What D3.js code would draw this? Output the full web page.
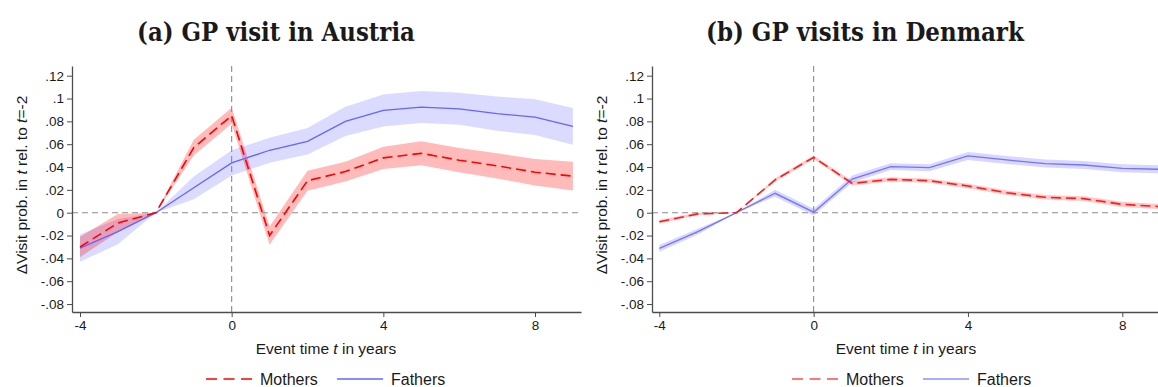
<!DOCTYPE html>
<html>
<head>
<meta charset="utf-8">
<script src="https://cdn.jsdelivr.net/npm/d3@7"></script>
<style>
body { margin: 0; background: #fff; }
svg text { font-family: "Liberation Sans", Arial, sans-serif; fill: #1a1a1a; }
</style>
</head>
<body>
<svg id="chart" width="1158" height="387"></svg>
<script>
var years = [-4, -3, -2, -1, 0, 1, 2, 3, 4, 5, 6, 7, 8, 9];
var yTicks = [0.12, 0.1, 0.08, 0.06, 0.04, 0.02, 0, -0.02, -0.04, -0.06, -0.08];
var xTicks = [-4, 0, 4, 8];
var titles = ["(a) GP visit in Austria", "(b) GP visits in Denmark"];
var seriesNames = ["Mothers", "Fathers"];

// Austria
var atMothers = [-0.030, -0.009, 0, 0.057, 0.085, -0.020, 0.028, 0.036, 0.048, 0.052, 0.046, 0.041, 0.0355, 0.032];
var atMothersCI = [0.009, 0.0078, 0, 0.007, 0.007, 0.008, 0.0087, 0.0087, 0.0097, 0.0105, 0.0106, 0.011, 0.0116, 0.0126];
var atFathers = [-0.031, -0.0166, 0, 0.0218, 0.0436, 0.0547, 0.0625, 0.080, 0.0896, 0.0925, 0.091, 0.0867, 0.0837, 0.0756];
var atFathersCI = [0.012, 0.011, 0, 0.010, 0.011, 0.011, 0.0116, 0.0128, 0.014, 0.014, 0.014, 0.015, 0.0157, 0.016];

// Denmark
var dkMothers = [-0.0079, -0.001, 0, 0.0287, 0.0485, 0.0257, 0.0292, 0.028, 0.0234, 0.0175, 0.0135, 0.0123, 0.0073, 0.0053];
var dkMothersCI = [0.0015, 0.0012, 0, 0.0015, 0.0015, 0.0018, 0.0018, 0.0018, 0.002, 0.002, 0.002, 0.002, 0.0022, 0.0022];
var dkFathers = [-0.0312, -0.0166, 0, 0.017, 0.0005, 0.0295, 0.0403, 0.0394, 0.0497, 0.0462, 0.043, 0.0418, 0.0389, 0.038];
var dkFathersCI = [0.003, 0.0025, 0, 0.003, 0.003, 0.003, 0.003, 0.003, 0.0035, 0.0035, 0.0035, 0.0035, 0.0035, 0.0035];

var panels = [
  {title: titles[0], titleX: 276, titleW: 278, axisX: 72, xm4: 80, x8: 535, right: 581, y0: 212.7, y12: 75.7,
   mothers: atMothers, mothersCI: atMothersCI, fathers: atFathers, fathersCI: atFathersCI,
   red: "#ff0000", redBand: "rgba(255,0,0,0.27)", blue: "#6464ff", blueBand: "rgba(110,110,255,0.25)",
   legRed: "#ff0000", legBlue: "#6464ff", legX: 206},
  {title: titles[1], titleX: 865, titleW: 318, axisX: 652, xm4: 659.3, x8: 1122.3, right: 1175, y0: 212.7, y12: 75.7,
   mothers: dkMothers, mothersCI: dkMothersCI, fathers: dkFathers, fathersCI: dkFathersCI,
   red: "#ff1a1a", redBand: "rgba(255,0,0,0.22)", blue: "#7373ff", blueBand: "rgba(110,110,255,0.28)",
   legRed: "#ff4d4d", legBlue: "#9191ff", legX: 792}
];

var svg = d3.select("#chart");
var plotTop = 66, plotBottom = 312;

function tickText(d) {
  if (d == 0) return "0";
  var s = d3.format(".2~f")(Math.abs(d)).replace(/^0\./, ".");
  return (d < 0 ? "-" : "") + s;
}

panels.forEach(function(p, k) {
  var g = svg.append("g");

  var base = d3.scaleLinear().domain([-4, 8]).range([p.xm4, p.x8]);
  var x = d3.scaleLinear().domain([base.invert(p.axisX), base.invert(p.right)]).range([p.axisX, p.right]);
  var yb = d3.scaleLinear().domain([0, 0.12]).range([p.y0, p.y12]);
  var y = d3.scaleLinear().domain([yb.invert(plotBottom), yb.invert(plotTop)]).range([plotBottom, plotTop]);

  var area = d3.area()
    .x(function(d) { return x(d.t); })
    .y0(function(d) { return y(d.v - d.ci); })
    .y1(function(d) { return y(d.v + d.ci); });
  var line = d3.line().x(function(d) { return x(d.t); }).y(function(d) { return y(d.v); });

  var mData = years.map(function(t, i) { return {t: t, v: p.mothers[i], ci: p.mothersCI[i]}; });
  var fData = years.map(function(t, i) { return {t: t, v: p.fathers[i], ci: p.fathersCI[i]}; });

  // bands
  g.append("path").datum(fData).attr("d", area).attr("fill", p.blueBand);
  g.append("path").datum(mData).attr("d", area).attr("fill", p.redBand);

  // reference lines
  g.append("line").attr("x1", p.axisX).attr("x2", p.right).attr("y1", y(0)).attr("y2", y(0))
    .attr("stroke", "#8c8c8c").attr("stroke-width", 1.1).attr("stroke-dasharray", "6,4");
  g.append("line").attr("x1", x(0)).attr("x2", x(0)).attr("y1", plotTop).attr("y2", plotBottom)
    .attr("stroke", "#8c8c8c").attr("stroke-width", 1.1).attr("stroke-dasharray", "6,4");

  g.append("path").datum(fData).attr("d", line).attr("fill", "none")
    .attr("stroke", p.blue).attr("stroke-width", 1.3);
  g.append("path").datum(mData).attr("d", line).attr("fill", "none")
    .attr("stroke", p.red).attr("stroke-width", 1.6).attr("stroke-dasharray", "10,5");

  // axes
  var yAxis = d3.axisLeft(y).tickValues(yTicks).tickSize(5).tickSizeOuter(0).tickPadding(3).tickFormat(tickText);
  var yG = g.append("g").attr("transform", "translate(" + p.axisX + ",0)").call(yAxis);

  var xAxis = d3.axisBottom(x).tickValues(xTicks).tickSize(5).tickSizeOuter(0).tickPadding(3).tickFormat(tickText);
  var xG = g.append("g").attr("transform", "translate(0," + plotBottom + ")").call(xAxis);

  [yG, xG].forEach(function(a) {
    a.select(".domain").attr("stroke", "#4d4d4d").attr("stroke-width", 1.3);
    a.selectAll(".tick line").attr("stroke", "#4d4d4d").attr("stroke-width", 1);
    a.selectAll(".tick text").style("font-size", "13.5px").attr("fill", "#1a1a1a");
  });

  // title, shrunk to the width seen in the reference
  var tt = g.append("text").attr("x", p.titleX).attr("y", 41).attr("text-anchor", "middle")
    .style("font-family", "'DejaVu Serif', serif").style("font-weight", "bold")
    .style("font-stretch", "condensed").style("font-size", "26px").text(p.title);
  var w = tt.node().getComputedTextLength();
  if (w > p.titleW) tt.style("font-size", (26 * p.titleW / w) + "px");

  var yt = g.append("text").attr("transform", "translate(" + (p.axisX - 45) + "," + 185 + ") rotate(-90)")
    .attr("text-anchor", "middle").style("font-size", "15.5px");
  yt.append("tspan").text("\u0394Visit prob. in ");
  yt.append("tspan").style("font-style", "italic").text("t");
  yt.append("tspan").text(" rel. to ");
  yt.append("tspan").style("font-style", "italic").text("t");
  yt.append("tspan").text("=-2");

  var xt = g.append("text").attr("x", (p.axisX + 254)).attr("y", 354)
    .attr("text-anchor", "middle").style("font-size", "15.5px");
  xt.append("tspan").text("Event time ");
  xt.append("tspan").style("font-style", "italic").text("t");
  xt.append("tspan").text(" in years");

  // legend
  var lg = g.append("g").attr("transform", "translate(" + p.legX + ",379)");
  lg.append("line").attr("x1", 0).attr("x2", 46).attr("stroke", p.legRed)
    .attr("stroke-width", 1.6).attr("stroke-dasharray", "11,6.5");
  lg.append("text").attr("x", 54).attr("y", 6).style("font-size", "16px").text(seriesNames[0]);
  lg.append("line").attr("x1", 131).attr("x2", 177).attr("stroke", p.legBlue).attr("stroke-width", 1.5);
  lg.append("text").attr("x", 185).attr("y", 6).style("font-size", "16px").text(seriesNames[1]);
});
</script>
</body>
</html>
